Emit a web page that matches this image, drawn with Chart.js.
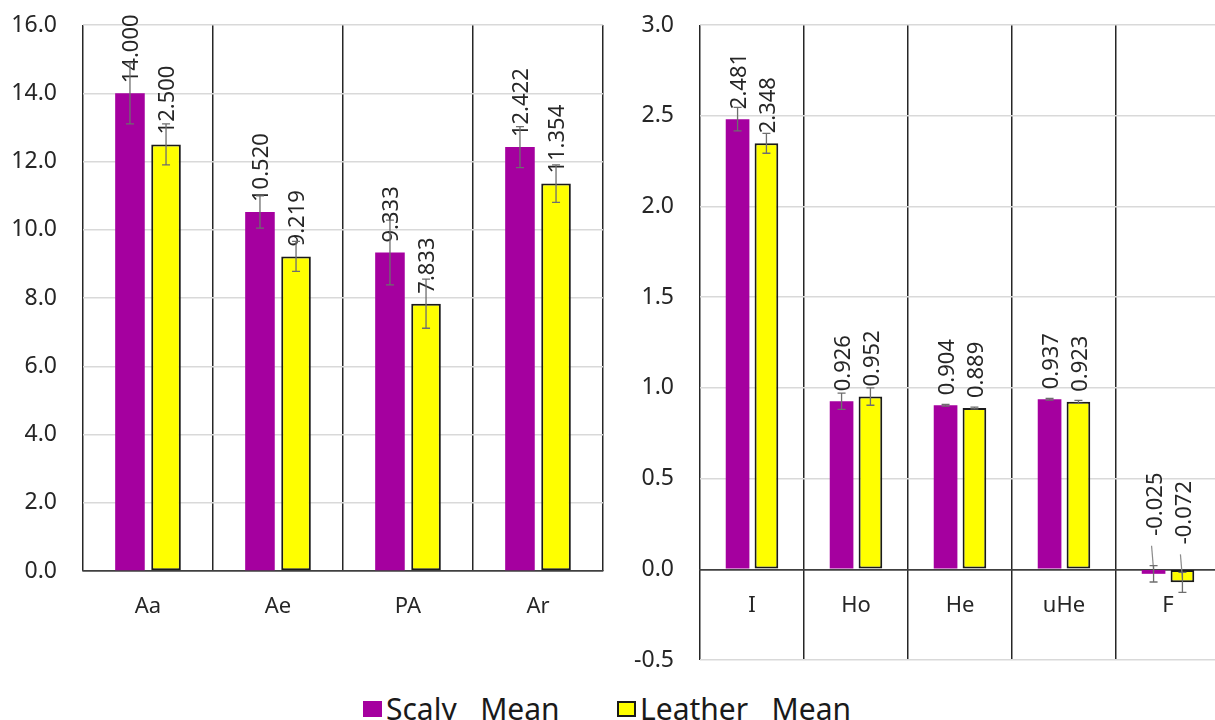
<!DOCTYPE html>
<html>
<head>
<meta charset="utf-8">
<script src="https://cdn.jsdelivr.net/npm/chart.js@4.4.1/dist/chart.umd.min.js"></script>
<style>
  body { margin: 0; width: 1215px; height: 720px; overflow: hidden; background: #fff; position: relative; font-family: "Noto Sans", sans-serif; }
  .box { position: absolute; top: 0; height: 680px; }
  .item { position: absolute; top: 689px; height: 40px; line-height: 40px; font-size: 30px; color: #1a1a1a; white-space: pre; display: flex; align-items: center; }
  .sw { display: inline-block; width: 19px; height: 16px; margin-right: 4px; box-sizing: border-box; }
</style>
</head>
<body>
<div class="box" style="left:0;width:615px"><canvas id="leftChart"></canvas></div>
<div class="box" style="left:603px;width:620px"><canvas id="rightChart"></canvas></div>
<div class="item" style="left:363px"><span class="sw" style="background:#A5009F"></span>Scaly   Mean</div>
<div class="item" style="left:617px"><span class="sw" style="background:#FFFF00;border:2px solid #1a1a1a"></span>Leather   Mean</div>
<script>
const leftCategories = ["Aa", "Ae", "PA", "Ar"];
const leftScaly = [14.000, 10.520, 9.333, 12.422];
const leftLeather = [12.500, 9.219, 7.833, 11.354];
const leftScalyErr = [0.9, 0.47, 0.95, 0.6];
const leftLeatherErr = [0.6, 0.44, 0.72, 0.55];

const rightCategories = ["I", "Ho", "He", "uHe", "F"];
const rightScaly = [2.481, 0.926, 0.904, 0.937, -0.025];
const rightLeather = [2.348, 0.952, 0.889, 0.923, -0.072];
const rightScalyErr = [0.065, 0.045, 0.005, 0.005, 0.045];
const rightLeatherErr = [0.055, 0.048, 0.005, 0.008, 0.055];

const seriesNames = ["Scaly   Mean", "Leather   Mean"];
const purple = "#A5009F";
const yellow = "#FFFF00";
const FONT = "'Noto Sans', sans-serif";

// error bars + rotated value labels
const barExtras = {
  id: "barExtras",
  afterDatasetsDraw(chart) {
    const ctx = chart.ctx;
    const y = chart.scales.y;
    ctx.save();
    chart.data.datasets.forEach((ds, i) => {
      chart.getDatasetMeta(i).data.forEach((bar, j) => {
        const v = ds.data[j];
        let start = bar.y - 10;
        ctx.strokeStyle = "#8a8a8a";
        ctx.lineWidth = 1.2;
        if (v < 0) {
          start = bar.y - 38;
          ctx.beginPath();
          ctx.moveTo(bar.x - 2, start + 10);
          ctx.lineTo(bar.x, bar.y - 4);
          ctx.stroke();
        }
        ctx.save();
        ctx.translate(bar.x + 2, start);
        ctx.rotate(-Math.PI / 2);
        ctx.font = "22px " + FONT;
        ctx.fillStyle = "#262626";
        ctx.textAlign = "left";
        ctx.textBaseline = "middle";
        ctx.fillText(v.toFixed(3), 0, 0);
        ctx.restore();
      });
    });
    // error bars
    ctx.strokeStyle = "#6e6e6e";
    ctx.lineWidth = 1.3;
    chart.data.datasets.forEach((ds, i) => {
      chart.getDatasetMeta(i).data.forEach((bar, j) => {
        const v = ds.data[j], e = ds.errors[j];
        const t = y.getPixelForValue(v + e), b = y.getPixelForValue(v - e);
        ctx.beginPath();
        ctx.moveTo(bar.x, t); ctx.lineTo(bar.x, b);
        ctx.moveTo(bar.x - 4, t); ctx.lineTo(bar.x + 4, t);
        ctx.moveTo(bar.x - 4, b); ctx.lineTo(bar.x + 4, b);
        ctx.stroke();
      });
    });
    ctx.restore();
  }
};

function makeChart(id, labels, scaly, leather, scalyErr, leatherErr, yMin, yMax, yStep, yWidth, padding) {
  return new Chart(document.getElementById(id), {
    type: "bar",
    data: {
      labels: labels,
      datasets: [
        {
          label: seriesNames[0],
          data: scaly,
          errors: scalyErr,
          backgroundColor: purple,
          borderWidth: 0,
          categoryPercentage: 0.555,
          barPercentage: 0.82,
        },
        {
          label: seriesNames[1],
          data: leather,
          errors: leatherErr,
          backgroundColor: yellow,
          borderColor: "#1a1a1a",
          borderWidth: 2,
          borderSkipped: false,
          categoryPercentage: 0.555,
          barPercentage: 0.82,
        },
      ],
    },
    options: {
      responsive: true,
      maintainAspectRatio: false,
      animation: false,
      layout: { padding: padding },
      plugins: { legend: { display: false }, tooltip: { enabled: false } },
      scales: {
        x: {
          position: { y: 0 },
          grid: { color: "#262626", lineWidth: 1.5, drawTicks: false, offset: true },
          border: { display: true, color: "#404040", width: 1.5 },
          ticks: { padding: 23, color: "#262626", font: { size: 22, family: FONT } },
        },
        y: {
          min: yMin,
          max: yMax,
          afterFit: (s) => {
            s.width = yWidth;
            s.paddingTop = 0;
            s.paddingBottom = 0;
          },
          grid: {
            color: (c) => (c.tick.value === 0 ? "#404040" : "#d9d9d9"),
            lineWidth: 1.5,
            drawTicks: false,
          },
          border: { display: false },
          ticks: {
            stepSize: yStep,
            padding: 26,
            color: "#262626",
            font: { size: 23, family: FONT },
            callback: (v) => v.toFixed(1),
          },
        },
      },
    },
    plugins: [barExtras],
  });
}

makeChart("leftChart", leftCategories, leftScaly, leftLeather, leftScalyErr, leftLeatherErr,
  0, 16, 2, 83, { top: 25, bottom: 109, right: 12, left: 0 });
makeChart("rightChart", rightCategories, rightScaly, rightLeather, rightScalyErr, rightLeatherErr,
  -0.5, 3, 0.5, 97, { top: 25, bottom: 20, right: 3, left: 0 });
</script>
</body>
</html>
